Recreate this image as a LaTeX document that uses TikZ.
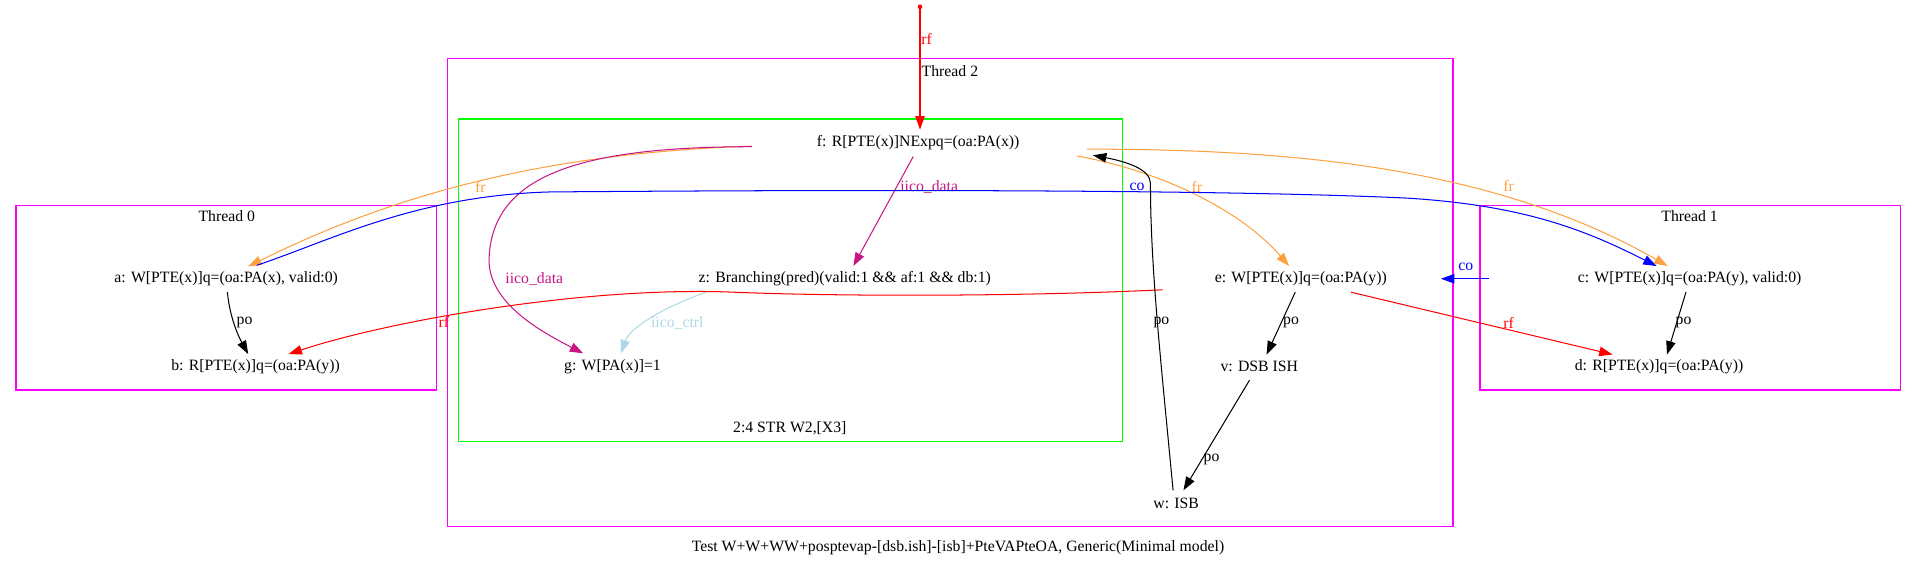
\documentclass[tikz,border=0pt]{standalone}
\usepackage{fontspec}
\setmainfont{Liberation Serif}
\usetikzlibrary{calc,arrows.meta}
\definecolor{magT}{RGB}{255,0,255}
\definecolor{grnT}{RGB}{0,255,0}
\definecolor{orT}{RGB}{255,160,64}
\definecolor{blT}{RGB}{0,0,255}
\definecolor{rdT}{RGB}{255,0,0}
\definecolor{vrT}{RGB}{199,21,133}
\definecolor{lbT}{RGB}{173,216,230}
\begin{document}
\begin{tikzpicture}[x=0.776pt,y=-0.776pt,
  ev/.style={inner sep=0pt, font=\fontsize{10}{12}\selectfont},
  lbl/.style={inner sep=0pt, font=\fontsize{10}{12}\selectfont},
  edge/.style={line width=0.65pt, -{Triangle[length=8.5pt,width=6pt]}},
  cluster/.style={line width=0.9pt}]
\useasboundingbox (0,0) rectangle (1568,464.6);

% clusters
\draw[cluster,magT] (13,168) rectangle (357,319);
\draw[cluster,magT] (366,47.7) rectangle (1188.5,430.5);
\draw[cluster,grnT] (375,97.4) rectangle (918,361);
\draw[cluster,magT] (1210.5,168) rectangle (1554.5,319);
\node[lbl] (t0) at (185.5,177) {Thread 0};
\node[lbl] (t2) at (777,58) {Thread 2};
\node[lbl] (t1) at (1382,177) {Thread 1};
\node[lbl] (gl) at (646,350) {2:4 STR W2,[X3]};
\node[lbl] (cap) at (783.6,448) {Test W+W+WW+posptevap-[dsb.ish]-[isb]+PteVAPteOA, Generic(Minimal model)};

% events
\node[ev] (a) at (185,228) {a: W[PTE(x)]q=(oa:PA(x), valid:0)};
\node[ev] (b) at (209,300) {b: R[PTE(x)]q=(oa:PA(y))};
\node[ev] (f) at (751,117) {f: R[PTE(x)]NExpq=(oa:PA(x))};
\node[ev] (z) at (691,228) {z: Branching(pred)(valid:1 \&\& af:1 \&\& db:1)};
\node[ev] (g) at (501,300) {g: W[PA(x)]=1};
\node[ev] (e) at (1064,228) {e: W[PTE(x)]q=(oa:PA(y))};
\node[ev] (v) at (1030,300) {v: DSB ISH};
\node[ev] (w) at (962,412) {w: ISB};
\node[ev] (c) at (1382,228) {c: W[PTE(x)]q=(oa:PA(y), valid:0)};
\node[ev] (d) at (1357,300) {d: R[PTE(x)]q=(oa:PA(y))};

% initial rf
\coordinate (top) at (752.5,5.5);
\fill[rdT] (top) circle (1.9);
\draw[edge,rdT] (top) -- ($(f.center)+(1.5,-11)$);
\node[lbl,text=rdT] (lrf0) at (758,32) {rf};

% fr f -> a
\draw[edge,orT] ($(f.center)+(-136,2.5)$) .. controls (455,125) and (330,155) .. ($(a.center)+(18,-10)$);
\node[lbl,text=orT] (lfr1) at (393,153) {fr};

% iico_data f -> g
\draw[edge,vrT] ($(f.center)+(-136,3)$) .. controls (470,120) and (400,145) .. (400,215)
  .. controls (402,248) and (440,270) .. ($(g.center)+(-24,-11)$);
\node[lbl,text=vrT] (lid1) at (437,228) {iico\_data};

% iico_data f -> z
\draw[edge,vrT] ($(f.center)+(-4,11)$) -- ($(z.center)+(7,-10.4)$);
\node[lbl,text=vrT] (lid2) at (760,153) {iico\_data};

% fr f -> e
\draw[edge,orT] ($(f.center)+(130,10.6)$) .. controls (950,140) and (1015,172) .. ($(e.center)+(-9.6,-10.4)$);
\node[lbl,text=orT] (lfr2) at (979,153) {fr};

% fr f -> c
\draw[edge,orT] ($(f.center)+(138,5)$) .. controls (1050,122) and (1220,135) .. ($(c.center)+(-18,-10.4)$);
\node[lbl,text=orT] (lfr3) at (1234,152) {fr};

% co a -> c
\draw[edge,blT] ($(a.center)+(25,-11)$) .. controls (270,197) and (340,160) .. (450,157)
  .. controls (700,155) and (1000,155) .. (1150,162)
  .. controls (1250,168) and (1300,190) .. ($(c.center)+(-27,-10.4)$);
\node[lbl,text=blT] (lco1) at (930,153) {co};

% co c -> e
\draw[edge,blT] ($(c.center)+(-164,0)$) -- ($(e.center)+(114.6,0)$);
\node[lbl,text=blT] (lco2) at (1199,218) {co};

% rf e -> b
\draw[edge,rdT] ($(e.center)+(-113,9)$) .. controls (850,242) and (700,243) .. (600,239)
  .. controls (480,234) and (320,262) .. ($(b.center)+(27,-10.4)$);
\node[lbl,text=rdT] (lrf1) at (363,263) {rf};

% rf e -> d
\draw[edge,rdT] ($(e.center)+(41,11)$) -- ($(d.center)+(-38,-10)$);
\node[lbl,text=rdT] (lrf2) at (1234,264) {rf};

% po edges
\draw[edge] ($(a.center)+(1,11)$) .. controls (188,260) and (195,275) .. ($(b.center)+(-6,-10.4)$);
\node[lbl] (lpo1) at (200,264) {po};
\draw[edge] ($(c.center)+(-3,11)$) -- ($(d.center)+(6.5,-10)$);
\node[lbl] (lpo2) at (1377,264) {po};
\draw[edge] ($(e.center)+(-4.6,11)$) -- ($(v.center)+(6,-10)$);
\node[lbl] (lpo3) at (1056,264) {po};
\draw[edge] ($(v.center)+(-8,11)$) -- ($(w.center)+(6,-11)$);
\node[lbl] (lpo4) at (991,375.5) {po};
\draw[edge] ($(w.center)+(-2.5,-11)$) .. controls (950,300) and (941,220) .. (941,150)
  .. controls (941,138) and (920,132) .. ($(f.center)+(143,10)$);
\node[lbl] (lpo5) at (950,264) {po};

% iico_ctrl z -> g
\draw[edge,lbT] ($(z.center)+(-113,11)$) .. controls (545,250) and (515,268) .. ($(g.center)+(7,-11)$);
\node[lbl,text=lbT] (lic) at (554,264) {iico\_ctrl};
\end{tikzpicture}
\end{document}
